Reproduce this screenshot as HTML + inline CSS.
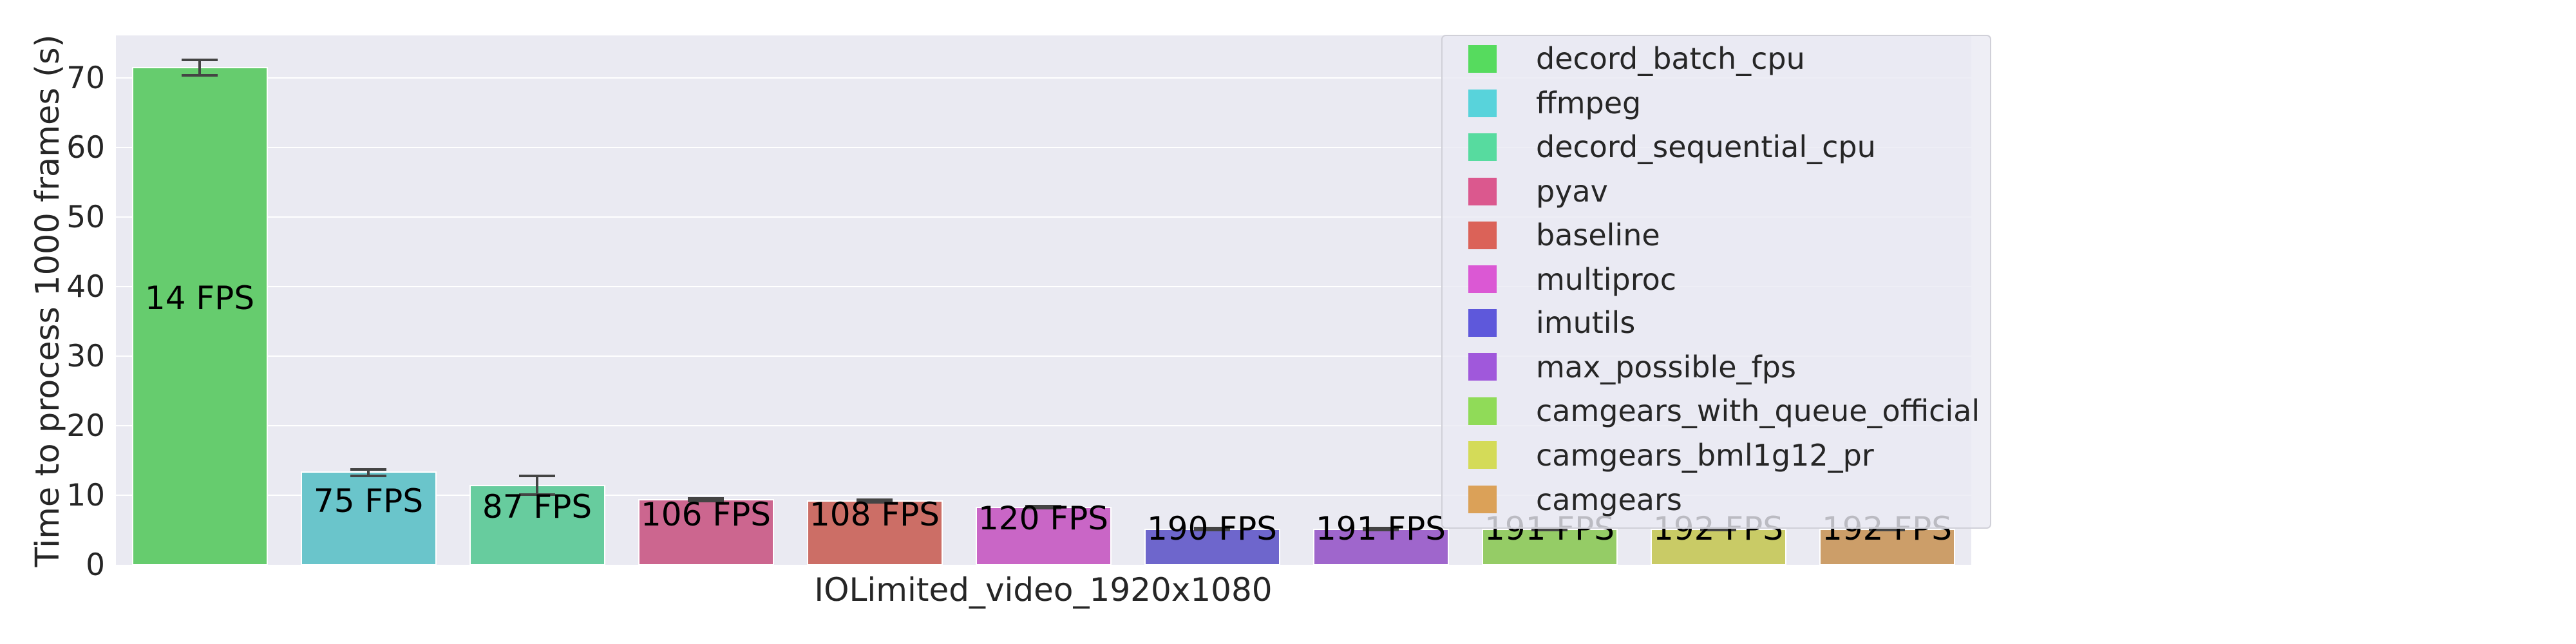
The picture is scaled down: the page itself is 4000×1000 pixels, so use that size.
<!DOCTYPE html>
<html><head><meta charset="utf-8"><style>
html,body{margin:0;padding:0;background:#fff;width:4000px;height:1000px;overflow:hidden}
svg text{font-family:"DejaVu Sans","Liberation Sans",sans-serif}
</style></head><body>
<svg width="4000" height="1000" viewBox="0 0 4000 1000" xmlns="http://www.w3.org/2000/svg">
<rect x="180" y="55" width="2881" height="822" fill="#eaeaf2"/>
<g stroke="#fff" stroke-width="2">
<line x1="180" x2="3061" y1="769" y2="769"/>
<line x1="180" x2="3061" y1="661" y2="661"/>
<line x1="180" x2="3061" y1="553" y2="553"/>
<line x1="180" x2="3061" y1="445" y2="445"/>
<line x1="180" x2="3061" y1="337" y2="337"/>
<line x1="180" x2="3061" y1="229" y2="229"/>
<line x1="180" x2="3061" y1="121" y2="121"/>
</g>
<g font-size="47" fill="#262626" text-anchor="end">
<text x="163" y="893">0</text><text x="163" y="785">10</text><text x="163" y="677">20</text>
<text x="163" y="569">30</text><text x="163" y="461">40</text><text x="163" y="353">50</text>
<text x="163" y="245">60</text><text x="163" y="137">70</text>
</g>
<text transform="translate(91,467) rotate(-90)" font-size="51" fill="#262626" text-anchor="middle">Time to process 1000 frames (s)</text>
<text x="1620" y="933" font-size="50" fill="#262626" text-anchor="middle">IOLimited_video_1920x1080</text>
<g stroke="#fff" stroke-width="2">
<rect x="206" y="105" width="209" height="772" fill="#66cc6e"/>
<rect x="468" y="733" width="209" height="144" fill="#6ac5cb"/>
<rect x="730" y="754" width="209" height="123" fill="#67cc9e"/>
<rect x="992" y="776" width="209" height="101" fill="#cc668f"/>
<rect x="1254" y="778" width="209" height="99" fill="#cc6e66"/>
<rect x="1516" y="788" width="209" height="89" fill="#c966c6"/>
<rect x="1778" y="822" width="209" height="55" fill="#6e66cc"/>
<rect x="2040" y="822" width="209" height="55" fill="#9f66cc"/>
<rect x="2302" y="822" width="209" height="55" fill="#95cc66"/>
<rect x="2564" y="822" width="209" height="55" fill="#c9cb66"/>
<rect x="2826" y="822" width="209" height="55" fill="#cc9e69"/>
</g>
<g stroke="#444" stroke-width="4" fill="none">
<path d="M282 93H338M282 117H338M310 93V117"/>
<path d="M544 729H600M544 739H600M572 729V739"/>
<path d="M806 739H862M806 768H862M834 739V768"/>
<path d="M1068 774H1124M1068 778H1124"/>
<path d="M1330 776H1386M1330 780H1386"/>
<path d="M1592 786H1648M1592 789H1648"/>
<path d="M1854 820H1910M1854 823H1910"/>
<path d="M2116 820H2172M2116 823H2172"/>
<path d="M2378 820H2434M2378 823H2434"/>
<path d="M2640 820H2696M2640 823H2696"/>
<path d="M2902 820H2958M2902 823H2958"/>
</g>
<g font-size="50" fill="#000" text-anchor="middle">
<text x="310" y="480">14 FPS</text>
<text x="572" y="795">75 FPS</text>
<text x="834" y="804">87 FPS</text>
<text x="1096" y="816">106 FPS</text>
<text x="1358" y="816">108 FPS</text>
<text x="1620" y="822">120 FPS</text>
<text x="1882" y="838">190 FPS</text>
<text x="2144" y="838">191 FPS</text>
<text x="2406" y="838">191 FPS</text>
<text x="2668" y="838">192 FPS</text>
<text x="2930" y="838">192 FPS</text>
</g>
<rect x="2239" y="55" width="852" height="765" rx="6" fill="#eaeaf2" fill-opacity="0.8" stroke="#d0d0d8" stroke-width="2"/>
<g>
<rect x="2280" y="70" width="44" height="43" fill="#56db5e"/>
<rect x="2280" y="139" width="44" height="43" fill="#58d3db"/>
<rect x="2280" y="207" width="44" height="43" fill="#57db9f"/>
<rect x="2280" y="276" width="44" height="43" fill="#db588e"/>
<rect x="2280" y="344" width="44" height="43" fill="#db6258"/>
<rect x="2280" y="412" width="44" height="43" fill="#db58d4"/>
<rect x="2280" y="480" width="44" height="43" fill="#5e58db"/>
<rect x="2280" y="548" width="44" height="43" fill="#a058db"/>
<rect x="2280" y="617" width="44" height="43" fill="#90db58"/>
<rect x="2280" y="685" width="44" height="43" fill="#d4db58"/>
<rect x="2280" y="754" width="44" height="43" fill="#dba158"/>
</g>
<g font-size="46" fill="#262626">
<text x="2385" y="107">decord_batch_cpu</text>
<text x="2385" y="176">ffmpeg</text>
<text x="2385" y="244">decord_sequential_cpu</text>
<text x="2385" y="313">pyav</text>
<text x="2385" y="381">baseline</text>
<text x="2385" y="450">multiproc</text>
<text x="2385" y="517">imutils</text>
<text x="2385" y="586">max_possible_fps</text>
<text x="2385" y="654">camgears_with_queue_official</text>
<text x="2385" y="723">camgears_bml1g12_pr</text>
<text x="2385" y="792">camgears</text>
</g>
</svg>
</body></html>
